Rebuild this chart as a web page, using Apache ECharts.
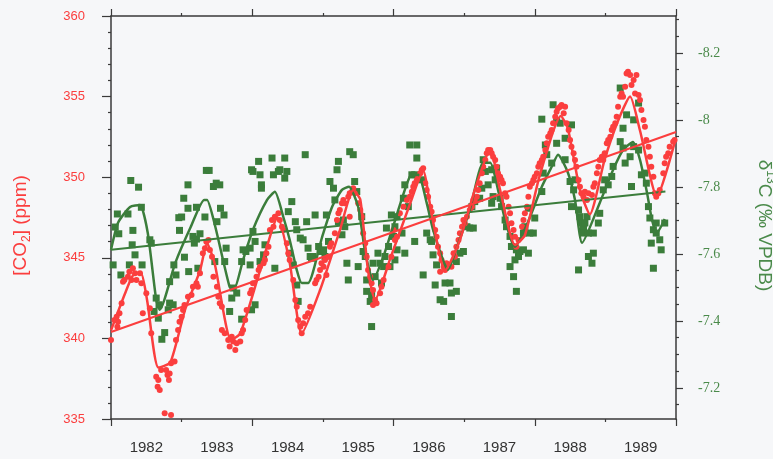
<!DOCTYPE html>
<html>
<head>
<meta charset="utf-8">
<script src="https://cdn.jsdelivr.net/npm/echarts@6/dist/echarts.min.js"></script>
<style>
html,body{margin:0;padding:0;background:#f6f7f9;}
#chart{width:773px;height:459px;}
</style>
</head>
<body>
<div id="chart"></div>
<script>
// ---- Data ----
const yearLabels = ['1982','1983','1984','1985','1986','1987','1988','1989'];
const d13cTicks = [-8.2, -8, -7.8, -7.6, -7.4, -7.2];

// CO2 observations [decimal year, ppm]
const co2Points = [
[1982.00,339.90],[1982.05,341.14],[1982.08,341.35],[1982.10,341.04],[1982.12,341.56],[1982.09,340.73],[1982.15,342.18],[1982.17,343.52],[1982.19,343.62],[1982.24,343.83],[1982.26,344.14],[1982.31,344.35],[1982.34,344.04],[1982.29,343.62],[1982.36,343.62],[1982.41,344.04],[1982.43,343.42],[1982.45,341.56],[1982.50,342.80],[1982.55,341.87],[1982.57,340.32],[1982.64,337.62],[1982.67,337.42],[1982.66,337.00],[1982.69,336.80],[1982.71,338.04],[1982.78,338.04],[1982.80,337.73],[1982.83,337.83],[1982.85,338.46],[1982.90,338.56],[1982.82,337.42],[1982.76,335.35],[1982.85,335.25],[1982.92,339.90],[1982.95,340.52],[1982.97,341.04],[1983.00,341.35],[1983.02,341.76],[1983.04,342.07],[1983.09,342.59],[1983.14,342.69],[1983.16,343.21],[1983.21,343.42],[1983.23,343.21],[1983.26,344.04],[1983.30,345.28],[1983.33,345.59],[1983.35,346.00],
[1983.38,346.10],[1983.40,345.48],[1983.43,345.07],[1983.45,343.83],[1983.50,343.21],[1983.52,342.59],[1983.54,342.18],[1983.57,341.97],[1983.57,340.52],[1983.61,340.32],[1983.66,339.90],[1983.68,339.49],[1983.71,340.11],[1983.73,339.80],[1983.76,339.28],[1983.78,339.70],[1983.83,339.80],[1983.85,340.32],[1983.87,340.52],[1983.90,341.14],[1983.92,341.76],[1983.97,342.80],[1983.99,343.00],[1984.01,343.42],[1984.06,343.83],[1984.09,344.24],[1984.11,344.45],[1984.16,344.66],[1984.18,344.86],[1984.20,345.28],[1984.23,345.69],[1984.25,346.72],[1984.28,347.34],[1984.30,346.93],[1984.32,347.55],[1984.37,347.76],[1984.39,347.34],[1984.42,346.93],[1984.44,346.72],[1984.49,345.90],[1984.51,345.28],[1984.53,344.86],[1984.58,343.62],[1984.61,342.38],[1984.63,341.97],
[1984.65,341.14],[1984.68,340.73],[1984.70,340.32],[1984.72,340.94],[1984.75,341.35],[1984.79,341.56],[1984.82,341.97],[1984.89,343.42],[1984.91,343.62],[1984.94,343.83],[1984.96,344.24],[1985.01,344.45],[1984.98,344.66],[1985.03,344.86],[1985.05,343.93],[1985.08,345.07],[1985.10,345.69],[1985.12,345.90],[1985.17,346.52],[1985.20,347.34],[1985.22,347.76],[1985.24,347.97],[1985.27,348.38],[1985.29,348.59],[1985.31,348.38],[1985.36,348.79],[1985.38,349.00],[1985.41,349.10],[1985.43,349.31],[1985.45,349.00],[1985.38,347.55],[1985.50,348.38],[1985.53,347.97],[1985.55,347.55],[1985.57,346.52],[1985.60,345.90],[1985.62,345.07],[1985.64,344.24],[1985.67,343.83],[1985.69,343.42],[1985.71,343.00],[1985.74,342.38],[1985.76,342.18],[1985.71,342.07],[1985.81,342.80],[1985.83,343.21],[1985.86,343.62],[1985.93,344.45],[1985.97,345.07],
[1986.00,346.72],[1986.02,346.10],[1986.05,346.31],[1986.09,347.76],[1986.14,348.17],[1986.19,348.59],[1986.23,348.79],[1986.26,349.10],[1986.28,349.41],[1986.30,349.62],[1986.33,349.83],[1986.35,350.03],[1986.38,350.24],[1986.40,350.45],[1986.42,350.55],[1986.45,349.62],[1986.47,349.21],[1986.49,348.79],[1986.52,348.17],[1986.54,347.86],[1986.56,347.34],[1986.59,346.72],[1986.61,346.31],[1986.63,345.69],[1986.66,345.28],[1986.68,344.86],[1986.71,344.45],[1986.73,344.24],[1986.66,344.14],[1986.75,344.66],[1986.82,344.45],[1986.85,345.28],[1986.87,345.07],[1986.89,345.69],[1986.92,346.10],[1986.94,346.52],[1986.97,346.93],[1986.99,347.34],[1987.01,347.14],[1987.04,347.55],[1987.08,347.97],[1987.11,348.17],[1987.13,348.59],[1987.15,348.59],[1987.18,348.79],[1987.20,349.21],[1987.22,349.62],[1987.25,350.24],[1987.27,350.65],[1987.30,351.07],[1987.32,351.48],[1987.34,351.69],
[1987.37,351.69],[1987.39,351.48],[1987.41,351.27],[1987.44,351.07],[1987.46,350.65],[1987.48,350.24],[1987.51,350.03],[1987.53,349.83],[1987.55,349.62],[1987.58,349.00],[1987.60,348.79],[1987.63,348.17],[1987.65,347.76],[1987.67,347.14],[1987.70,346.72],[1987.72,346.31],[1987.74,345.69],[1987.77,346.10],[1987.82,346.93],[1987.84,347.34],[1987.86,347.76],[1987.89,348.17],[1987.91,348.79],[1987.93,349.41],[1987.96,349.62],[1987.98,349.83],[1988.00,350.03],[1988.03,350.24],[1988.05,350.65],[1988.07,350.86],[1988.10,351.07],[1988.12,351.27],[1988.15,351.69],[1988.17,352.10],[1988.19,352.51],[1988.22,352.72],[1988.24,352.93],[1988.26,353.34],[1988.29,353.75],[1988.31,354.06],[1988.33,354.27],[1988.36,354.37],[1988.38,354.48],[1988.43,354.37],[1988.41,353.96],[1988.45,353.34],[1988.48,352.93],[1988.50,352.31],[1988.52,351.89],[1988.55,351.48],[1988.57,351.07],[1988.59,350.65],[1988.62,349.83],[1988.64,349.41],[1988.66,349.00],
[1988.69,348.79],[1988.71,349.10],[1988.74,348.59],[1988.76,349.00],[1988.81,348.90],[1988.83,349.41],[1988.85,349.62],[1988.88,350.24],[1988.90,350.65],[1988.92,351.07],[1988.95,351.27],[1988.97,351.07],[1988.99,351.48],[1989.02,352.10],[1989.04,352.31],[1989.07,352.51],[1989.09,352.93],[1989.11,353.13],[1989.14,353.34],[1989.16,353.75],[1989.18,354.37],[1989.21,354.99],[1989.23,355.20],[1989.25,354.99],[1989.28,355.61],[1989.30,356.44],[1989.32,356.54],[1989.35,356.34],[1989.37,355.72],[1989.40,356.03],[1989.42,355.20],[1989.44,356.34],[1989.47,355.10],[1989.49,354.79],[1989.51,354.17],[1989.54,353.55],[1989.56,353.13],[1989.58,352.31],[1989.61,351.89],[1989.63,351.27],[1989.65,350.65],[1989.68,350.03],[1989.70,349.00],[1989.72,348.79],[1989.75,349.00],[1989.77,349.21],[1989.82,350.24],[1989.84,350.86],[1989.86,351.27],[1989.89,351.48],[1989.91,351.89],[1989.96,352.20],[1989.98,352.31]
];

// delta13C observations [decimal year, per mil VPDB]
const d13cPoints = [
[1982.09,-7.719],[1982.06,-7.680],[1982.11,-7.660],[1982.03,-7.567],[1982.14,-7.537],[1982.28,-7.819],[1982.39,-7.799],[1982.24,-7.719],[1982.43,-7.739],[1982.31,-7.670],[1982.30,-7.627],[1982.34,-7.597],[1982.26,-7.567],[1982.44,-7.567],[1982.55,-7.642],[1982.57,-7.632],[1982.64,-7.468],[1982.68,-7.448],[1982.61,-7.428],[1982.67,-7.408],[1982.76,-7.365],[1982.72,-7.345],[1982.83,-7.453],[1982.88,-7.448],[1982.81,-7.433],[1982.89,-7.567],[1982.83,-7.517],[1982.92,-7.537],[1983.04,-7.590],[1982.97,-7.670],[1982.96,-7.708],[1983.00,-7.710],[1983.03,-7.766],[1983.09,-7.736],[1983.09,-7.806],[1983.21,-7.739],[1983.16,-7.652],[1983.21,-7.644],[1983.18,-7.632],[1983.26,-7.660],[1983.23,-7.557],[1983.10,-7.547],[1983.33,-7.710],[1983.35,-7.849],
[1983.39,-7.849],[1983.45,-7.801],[1983.49,-7.811],[1983.54,-7.806],[1983.55,-7.736],[1983.60,-7.716],[1983.50,-7.696],[1983.63,-7.617],[1983.47,-7.577],[1983.61,-7.577],[1983.73,-7.498],[1983.71,-7.468],[1983.78,-7.483],[1983.68,-7.428],[1983.85,-7.405],[1983.87,-7.612],[1983.85,-7.577],[1983.91,-7.607],[1983.97,-7.617],[1984.01,-7.667],[1984.04,-7.637],[1983.97,-7.567],[1984.11,-7.577],[1984.18,-7.627],[1984.16,-7.597],[1983.99,-7.433],[1984.04,-7.448],[1983.99,-7.851],[1984.01,-7.846],[1984.09,-7.876],[1984.11,-7.836],[1984.13,-7.806],[1984.13,-7.796],[1984.28,-7.886],[1984.30,-7.836],[1984.37,-7.846],[1984.39,-7.851],[1984.46,-7.886],[1984.49,-7.846],[1984.46,-7.826],[1984.56,-7.756],[1984.51,-7.726],[1984.61,-7.696],[1984.63,-7.672],[1984.32,-7.557],[1984.53,-7.602],[1984.58,-7.567],[1984.63,-7.507],[1984.65,-7.458],
[1984.75,-7.896],[1984.77,-7.696],[1984.68,-7.647],[1984.72,-7.642],[1984.79,-7.617],[1984.82,-7.592],[1984.86,-7.592],[1984.89,-7.716],[1984.94,-7.622],[1984.96,-7.607],[1984.84,-7.587],[1985.01,-7.612],[1985.08,-7.637],[1985.10,-7.816],[1985.15,-7.796],[1985.05,-7.716],[1985.03,-7.592],[1985.17,-7.761],[1985.20,-7.851],[1985.22,-7.876],[1985.22,-7.696],[1985.27,-7.657],[1985.29,-7.701],[1985.31,-7.681],[1985.34,-7.572],[1985.36,-7.522],[1985.38,-7.905],[1985.43,-7.896],[1985.45,-7.816],[1985.48,-7.786],[1985.50,-7.562],[1985.55,-7.711],[1985.57,-7.607],[1985.60,-7.592],[1985.62,-7.522],[1985.62,-7.488],[1985.67,-7.458],[1985.69,-7.478],[1985.71,-7.572],[1985.74,-7.532],[1985.78,-7.602],[1985.81,-7.572],[1985.83,-7.513],[1985.86,-7.562],[1985.88,-7.592],[1985.90,-7.677],[1985.93,-7.622],[1985.95,-7.562],[1985.97,-7.716],[1986.00,-7.652],[1985.69,-7.383],
[1986.23,-7.925],[1986.33,-7.925],[1986.33,-7.886],[1986.26,-7.836],[1986.30,-7.836],[1986.40,-7.821],[1986.16,-7.806],[1986.14,-7.766],[1986.21,-7.741],[1986.05,-7.711],[1986.02,-7.681],[1986.12,-7.662],[1986.05,-7.612],[1986.02,-7.582],[1986.16,-7.602],[1986.30,-7.637],[1986.47,-7.662],[1986.52,-7.642],[1986.54,-7.637],[1986.56,-7.597],[1986.61,-7.567],[1986.42,-7.537],[1986.59,-7.507],[1986.66,-7.463],[1986.71,-7.458],[1986.73,-7.513],[1986.80,-7.513],[1986.82,-7.483],[1986.89,-7.488],[1986.82,-7.413],[1986.89,-7.577],[1986.94,-7.602],[1986.99,-7.607],[1987.04,-7.681],[1987.08,-7.677],[1987.13,-7.677],[1987.11,-7.741],[1987.15,-7.756],[1987.22,-7.766],[1987.25,-7.796],[1987.30,-7.846],[1987.27,-7.881],[1987.34,-7.806],
[1988.26,-8.045],[1988.10,-8.002],[1988.31,-7.995],[1988.36,-7.990],[1988.52,-7.985],[1988.43,-7.945],[1988.31,-7.930],[1988.15,-7.925],[1988.17,-7.896],[1988.43,-7.881],[1988.24,-7.871],[1988.12,-7.841],[1988.10,-7.786],[1988.00,-7.707],[1987.91,-7.736],[1987.86,-7.681],[1987.84,-7.662],[1987.98,-7.662],[1987.39,-7.851],[1987.46,-7.856],[1987.44,-7.821],[1987.41,-7.771],[1987.39,-7.751],[1987.51,-7.766],[1987.53,-7.741],[1987.58,-7.701],[1987.60,-7.681],[1987.65,-7.652],[1987.67,-7.622],[1987.72,-7.582],[1987.74,-7.612],[1987.77,-7.592],[1987.79,-7.607],[1987.84,-7.612],[1987.91,-7.602],[1987.93,-7.662],[1987.65,-7.562],[1987.70,-7.532],[1987.74,-7.488],[1988.50,-7.816],[1988.52,-7.741],[1988.55,-7.791],[1988.57,-7.821],[1988.62,-7.731],[1988.64,-7.711],[1988.66,-7.692],[1988.69,-7.681],[1988.62,-7.552],
[1989.21,-8.095],[1989.47,-8.050],[1989.30,-8.015],[1989.25,-7.975],[1989.40,-8.000],[1989.21,-7.935],[1989.25,-7.916],[1989.28,-7.871],[1989.35,-7.890],[1989.40,-7.920],[1989.47,-7.910],[1989.11,-7.861],[1989.09,-7.831],[1989.04,-7.806],[1988.99,-7.821],[1988.97,-7.791],[1988.92,-7.721],[1988.90,-7.692],[1988.83,-7.662],[1988.74,-7.711],[1988.71,-7.692],[1988.69,-7.662],[1988.76,-7.662],[1988.83,-7.602],[1988.76,-7.592],[1988.81,-7.572],[1989.37,-7.801],[1989.51,-7.836],[1989.56,-7.841],[1989.58,-7.811],[1989.61,-7.741],[1989.63,-7.707],[1989.68,-7.672],[1989.72,-7.662],[1989.77,-7.642],[1989.79,-7.612],[1989.84,-7.692],[1989.72,-7.692],[1989.65,-7.632],[1989.68,-7.557]
];

// Seasonal fit curves
const co2Fit = [
[1982.00,340.5],[1982.20,342.8],[1982.31,343.9],[1982.42,344.1],[1982.51,342.4],[1982.67,338.2],[1982.84,338.5],[1983.05,341.8],[1983.26,344.2],[1983.36,345.9],[1983.47,344.6],[1983.70,339.9],[1983.83,340.3],[1984.11,344.2],[1984.36,347.5],[1984.53,344.7],[1984.70,340.3],[1984.96,343.0],[1985.24,346.7],[1985.43,349.2],[1985.53,348.6],[1985.64,344.2],[1985.74,342.4],[1985.95,344.9],[1986.23,348.3],[1986.42,350.4],[1986.54,347.7],[1986.73,344.2],[1986.94,346.1],[1987.15,349.2],[1987.37,351.7],[1987.51,349.2],[1987.72,345.8],[1987.86,346.4],[1988.07,350.1],[1988.37,353.8],[1988.47,353.0],[1988.64,349.2],[1988.78,347.7],[1988.99,351.1],[1989.18,353.5],[1989.35,355.0],[1989.49,352.9],[1989.73,348.8],[1989.99,352.3]
];
const d13cFit = [
[1982.00,-7.612],[1982.10,-7.693],[1982.27,-7.740],[1982.41,-7.746],[1982.52,-7.663],[1982.64,-7.463],[1982.69,-7.433],[1982.91,-7.573],[1983.13,-7.681],[1983.32,-7.761],[1983.36,-7.761],[1983.47,-7.687],[1983.68,-7.501],[1983.74,-7.493],[1983.87,-7.582],[1984.01,-7.672],[1984.21,-7.761],[1984.32,-7.785],[1984.44,-7.710],[1984.53,-7.642],[1984.63,-7.552],[1984.70,-7.513],[1984.79,-7.513],[1984.99,-7.651],[1985.13,-7.740],[1985.27,-7.791],[1985.37,-7.800],[1985.50,-7.740],[1985.60,-7.603],[1985.71,-7.522],[1985.84,-7.582],[1985.98,-7.672],[1986.23,-7.830],[1986.35,-7.836],[1986.47,-7.752],[1986.56,-7.672],[1986.70,-7.582],[1986.77,-7.552],[1986.90,-7.621],[1987.08,-7.731],[1987.27,-7.872],[1987.37,-7.872],[1987.48,-7.791],[1987.58,-7.701],[1987.68,-7.633],[1987.72,-7.621],[1987.90,-7.693],[1988.10,-7.800],[1988.24,-7.860],[1988.33,-7.896],[1988.47,-7.842],[1988.57,-7.761],[1988.67,-7.633],[1988.92,-7.752],[1989.11,-7.851],[1989.25,-7.910],[1989.39,-7.934],[1989.49,-7.881],[1989.59,-7.782],[1989.66,-7.701],[1989.73,-7.663],[1989.84,-7.704]
];

// Linear trends
const co2Trend = [[1982.00,340.4],[1990.00,352.8]];
const d13cTrend = [[1982.00,-7.612],[1989.85,-7.786]];

// ---- Chart ----
const RED = '#fb3e3e';
const GREEN = '#3b7d3b';
const GREEN_TXT = '#4a8a4a';
const AXIS = '#3a3a3a';
const SANS = "'Liberation Sans', Arial, sans-serif";
const SERIF = "'Liberation Serif', 'Times New Roman', serif";

const chart = echarts.init(document.getElementById('chart'), null, {renderer: 'canvas'});

const xValueAxisBase = {
  type: 'value', min: 1982, max: 1990, interval: 2,
  axisLine: {show: true, lineStyle: {color: AXIS, width: 1.5}},
  axisLabel: {show: false},
  splitLine: {show: false},
  minorTick: {show: true, splitNumber: 2, length: 3, lineStyle: {color: AXIS, width: 1.2}},
  axisTick: {show: true, inside: false, length: 7, lineStyle: {color: AXIS, width: 1.2}}
};

chart.setOption({
  backgroundColor: '#f6f7f9',
  animation: false,
  grid: {left: 111, right: 97, top: 16, bottom: 40, containLabel: false, outerBoundsMode: 'none'},
  xAxis: [
    Object.assign({}, xValueAxisBase, {position: 'bottom'}),
    Object.assign({}, xValueAxisBase, {position: 'top'}),
    {
      type: 'category', data: yearLabels, position: 'bottom', boundaryGap: true,
      axisLine: {show: false}, axisTick: {show: false}, splitLine: {show: false},
      axisLabel: {color: '#333', fontSize: 15, fontFamily: SANS, margin: 21}
    }
  ],
  yAxis: [
    {
      type: 'value', min: 335, max: 360, interval: 5, position: 'left',
      axisLine: {show: true, lineStyle: {color: AXIS, width: 1.5}},
      axisTick: {show: true, length: 9, lineStyle: {color: AXIS, width: 1.2}},
      minorTick: {show: true, splitNumber: 5, length: 3, lineStyle: {color: AXIS, width: 1.2}},
      splitLine: {show: false},
      axisLabel: {color: RED, fontSize: 13, fontFamily: SANS, margin: 26},
      name: '{a|[CO}{s|2}{a|] (ppm)}',
      nameLocation: 'middle', nameRotate: 90, nameGap: 78,
      nameTextStyle: {
        padding: [0, 16, 0, 0],
        rich: {
          a: {color: RED, fontSize: 19, fontFamily: SANS},
          s: {color: RED, fontSize: 12, fontFamily: SANS, padding: [12, 0, 0, 0]}
        }
      }
    },
    {
      type: 'value', min: -8.31, max: -7.107, inverse: true, position: 'right',
      axisLine: {show: true, lineStyle: {color: AXIS, width: 1.5}},
      axisTick: {show: true, length: 7, customValues: d13cTicks, lineStyle: {color: AXIS, width: 1.2}},
      minorTick: {show: true, splitNumber: 4, length: 3, lineStyle: {color: AXIS, width: 1.2}},
      splitLine: {show: false},
      axisLabel: {color: GREEN_TXT, fontSize: 14, fontFamily: SERIF, margin: 22, showMinLabel: false, showMaxLabel: false},
      name: '{a|δ}{s|13}{a|C (‰ VPDB)}',
      nameLocation: 'middle', nameRotate: -90, nameGap: 76,
      nameTextStyle: {
        padding: [0, 0, 0, 16],
        rich: {
          a: {color: GREEN_TXT, fontSize: 19, fontFamily: SANS},
          s: {color: GREEN_TXT, fontSize: 12, fontFamily: SANS, padding: [0, 0, 12, 0]}
        }
      }
    }
  ],
  series: [
    {
      name: 'd13C obs', type: 'scatter', xAxisIndex: 0, yAxisIndex: 1,
      data: d13cPoints, symbol: 'rect', symbolSize: 7,
      itemStyle: {color: GREEN, opacity: 1}, z: 2
    },
    {
      name: 'CO2 obs', type: 'scatter', xAxisIndex: 0, yAxisIndex: 0,
      data: co2Points, symbol: 'circle', symbolSize: 6,
      itemStyle: {color: RED, opacity: 1}, z: 3
    },
    {
      name: 'd13C fit', type: 'line', xAxisIndex: 0, yAxisIndex: 1,
      data: d13cFit, showSymbol: false, smooth: 0.2,
      lineStyle: {color: GREEN, width: 2.5}, z: 4
    },
    {
      name: 'd13C trend', type: 'line', xAxisIndex: 0, yAxisIndex: 1,
      data: d13cTrend, showSymbol: false,
      lineStyle: {color: GREEN, width: 2}, z: 4
    },
    {
      name: 'CO2 fit', type: 'line', xAxisIndex: 0, yAxisIndex: 0,
      data: co2Fit, showSymbol: false, smooth: 0.2,
      lineStyle: {color: RED, width: 2.5}, z: 5
    },
    {
      name: 'CO2 trend', type: 'line', xAxisIndex: 0, yAxisIndex: 0,
      data: co2Trend, showSymbol: false,
      lineStyle: {color: RED, width: 2}, z: 5
    }
  ]
});
</script>
</body>
</html>
